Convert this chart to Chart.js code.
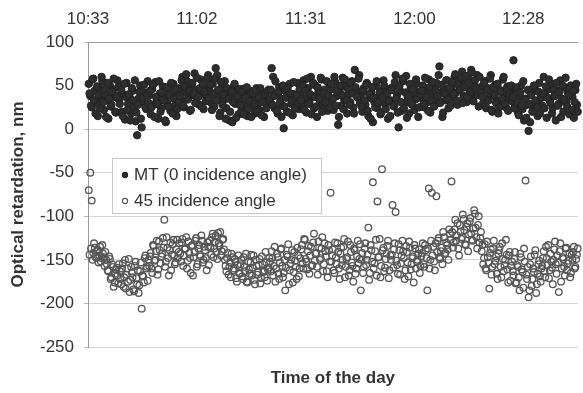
<!DOCTYPE html>
<html>
<head>
<meta charset="utf-8">
<title>Optical retardation</title>
<script src="https://cdn.jsdelivr.net/npm/chart.js@4.4.1/dist/chart.umd.min.js"></script>
<style>
  html, body { margin: 0; padding: 0; background: #fff; }
  #wrap { width: 583px; height: 393px; }
</style>
</head>
<body>
<div id="wrap"><canvas id="chart"></canvas></div>
<script>
/* -----------------------
   Time axis (minutes after midnight)
------------------------*/
const tickMinutes = [633.6, 662.4, 691.2, 720, 748.8];
const tickLabels  = ["10:33", "11:02", "11:31", "12:00", "12:28"];
const axisStart = 633.6;
const axisEnd   = 763.2;

// two interleaved runs, each one reading every 24 s
const firstSample = 633.8;
const sampleStep  = 0.4;
const runOffset   = 0.2;

/* READINGS, nm : run A */
const mtValues = [
  52, 38, 25, 58, 44, 30, 15, 47, 36, 55, 22, 41, 33, 12, 50, 28, 45, 37, 19, 56,
  34, 48, 20, 40, 11, 53, 29, 37, 18, 44, 26, 9, -7, 35, 50, 2, 31, 42, 23, 55,
  39, 17, 46, 28, 54, 33, 12, 41, 24, 49, 36, 8, 30, 45, 21, 38, 52, 27, 15, 43,
  47, 33, 60, 25, 42, 55, 36, 21, 50, 39, 64, 31, 45, 28, 57, 40, 23, 48, 35, 62,
  44, 30, 52, 26, 70, 62, 38, 19, 47, 33, 55, 24, 41, 10, 36, 8, 49, 29, 43, 17,
  35, 21, 46, 28, 40, 15, 38, 44, 25, 33, 18, 47, 30, 22, 42, 36, 14, 39, 27, 45,
  32, 70, 60, 24, 41, 18, 48, 35, 27, 1, 44, 20, 37, 52, 29, 16, 40, 34, 53, 23,
  42, 28, 56, 35, 19, 47, 31, 60, 38, 24, 50, 14, 43, 33, 57, 27, 45, 36, 21, 52,
  30, 46, 22, 54, 38, 5, 43, 27, 59, 34, 49, 18, 40, 31, 55, 25, 68, 44, 36, 62,
  39, 20, 47, 28, 53, 15, 36, 42, 8, 31, 50, 24, 38, 17, 44, 56, 29, 35, 12, 46,
  33, 48, 26, 62, 39, 2, 44, 21, 55, 30, 61, 37, 18, 47, 28, 41, 34, 52, 14, 43,
  36, 50, 25, 44, 31, 57, 19, 40, 48, 28, 53, 35, 72, 42, 14, 46, 33, 56, 24, 39,
  49, 36, 60, 42, 28, 55, 47, 66, 38, 52, 31, 58, 44, 68, 35, 50, 41, 62, 26, 48,
  43, 30, 55, 24, 47, 37, 62, 20, 40, 51, 33, 18, 45, 28, 57, 38, 25, 49, 35, 42,
  32, 79, 26, 45, 19, 38, 50, 23, 10, 35, 28, -2, 8, 41, 22, 47, 30, 15, 53, 36,
  27, 60, 40, 13, 46, 33, 52, 24, 38, 10, 44, 29, 56, 35, 20, 48, 31, 42, 17, 50,
  37, 13, 45, 28
];

const angle45Values = [
  -70, -50, -82, -142, -136, -148, -139, -145, -152, -133, -147, -141, -155, -163, -149, -170, -158, -176, -161, -168,
  -155, -172, -160, -181, -150, -167, -175, -187, -158, -170, -186, -152, -178, -188, -163, -206, -169, -148, -160, -174,
  -157, -142, -165, -134, -150, -128, -161, -139, -146, -125, -104, -152, -136, -168, -130, -144, -127, -155, -138, -148,
  -131, -152, -126, -145, -137, -160, -129, -148, -134, -168, -141, -125, -155, -133, -146, -128, -150, -139, -162, -135,
  -128, -144, -120, -137, -122, -149, -131, -118, -140, -126, -150, -163, -142, -158, -170, -147, -160, -152, -175, -145,
  -166, -150, -172, -158, -143, -176, -161, -153, -168, -145, -178, -157, -164, -149, -171, -155, -162, -141, -174, -159,
  -152, -140, -168, -135, -160, -147, -172, -138, -157, -165, -185, -144, -132, -162, -150, -176, -141, -158, -136, -169,
  -148, -133, -160, -127, -152, -140, -166, -135, -156, -120, -143, -158, -129, -150, -137, -163, -131, -146, -170, -139,
  -73, -145, -162, -130, -155, -141, -172, -136, -150, -126, -158, -147, -168, -133, -153, -175, -139, -160, -128, -149,
  -185, -142, -158, -131, -150, -113, -165, -139, -61, -154, -127, -83, -147, -170, -46, -136, -159, -143, -128, -162,
  -150, -87, -138, -95, -156, -132, -167, -145, -140, -172, -134, -153, -129, -161, -148, -176, -137, -152, -143, -165,
  -146, -131, -158, -139, -185, -68, -150, -73, -135, -162, -77, -128, -147, -140, -155, -124, -142, -133, -150, -120,
  -60, -136, -115, -128, -108, -145, -118, -124, -103, -132, -112, -140, -106, -120, -128, -93, -113, -137, -100, -125,
  -140, -155, -132, -162, -147, -183, -138, -158, -128, -151, -166, -143, -135, -170, -149, -156, -127, -161, -145, -174,
  -152, -168, -141, -176, -158, -185, -147, -164, -137, -59, -172, -193, -155, -180, -160, -144, -188, -166, -151, -175,
  -157, -140, -170, -148, -133, -162, -152, -178, -138, -155, -145, -187, -131, -160, -149, -168, -136, -154, -142, -165,
  -150, -135, -158, -144
];

/* READINGS, nm : run B */
const mtValuesB = [
  41, 27, 57, 33, 18, 49, 39, 24, 60, 31, 46, 14, 53, 35, 26, 43, 58, 20, 38, 48,
  29, 45, 15, 52, 37, 22, 40, 10, 47, 33, 56, 19, 28, 43, 12, 36, 51, 25, 39, 30,
  44, 25, 51, 14, 37, 29, 55, 20, 42, 33, 10, 48, 26, 39, 53, 18, 35, 46, 23, 31,
  38, 56, 27, 49, 63, 34, 44, 22, 53, 41, 30, 59, 37, 47, 26, 52, 43, 32, 58, 36,
  51, 22, 40, 58, 33, 45, 15, 54, 28, 39, 12, 47, 35, 20, 43, 31, 52, 13, 38, 46,
  27, 43, 17, 37, 48, 23, 32, 14, 41, 29, 45, 20, 36, 47, 16, 31, 40, 24, 44, 34,
  45, 28, 38, 55, 21, 42, 31, 14, 50, 26, 36, 47, 19, 41, 33, 54, 24, 39, 30, 46,
  33, 51, 22, 44, 58, 29, 40, 17, 53, 37, 26, 48, 35, 59, 20, 41, 31, 55, 39, 25,
  52, 35, 60, 27, 45, 14, 50, 39, 23, 57, 33, 46, 28, 53, 41, 18, 48, 37, 58, 30,
  26, 44, 33, 51, 21, 40, 12, 48, 36, 25, 55, 30, 43, 19, 37, 50, 23, 41, 32, 15,
  45, 27, 54, 35, 19, 49, 31, 58, 24, 42, 13, 38, 52, 29, 46, 22, 57, 36, 25, 40,
  44, 29, 59, 37, 21, 48, 33, 54, 26, 45, 38, 62, 30, 51, 19, 41, 56, 34, 47, 27,
  54, 40, 63, 33, 51, 45, 59, 30, 48, 61, 37, 53, 43, 65, 32, 56, 46, 39, 60, 42,
  37, 53, 27, 45, 33, 58, 22, 48, 39, 30, 52, 25, 43, 35, 60, 29, 46, 21, 40, 50,
  37, 24, 48, 31, 16, 42, 27, 55, 34, 13, 45, 29, 39, 20, 50, 33, 25, 43, 18, 36,
  41, 24, 49, 36, 57, 30, 18, 45, 38, 53, 27, 43, 14, 50, 33, 59, 26, 39, 47, 22,
  44, 31, 52, 20
];

const angle45ValuesB = [
  -144, -137, -150, -131, -146, -140, -153, -135, -148, -143, -157, -150, -162, -146, -172, -155, -181, -166, -159, -177,
  -163, -178, -154, -170, -183, -160, -149, -173, -165, -184, -157, -171, -162, -179, -153, -168, -176, -145, -158, -150,
  -146, -160, -133, -151, -140, -167, -129, -154, -143, -136, -158, -124, -148, -139, -162, -132, -145, -153, -127, -141,
  -143, -130, -157, -138, -124, -151, -142, -165, -133, -147, -128, -158, -137, -144, -122, -153, -135, -148, -130, -156,
  -135, -124, -147, -130, -141, -119, -134, -145, -127, -138, -157, -148, -167, -153, -143, -162, -149, -171, -156, -165,
  -155, -169, -147, -163, -175, -152, -166, -144, -159, -173, -150, -167, -156, -177, -146, -164, -170, -153, -161, -148,
  -163, -148, -157, -175, -143, -166, -153, -137, -170, -150, -159, -146, -178, -154, -139, -164, -151, -172, -145, -160,
  -138, -154, -126, -149, -161, -134, -145, -157, -130, -151, -142, -167, -136, -148, -124, -155, -140, -163, -133, -152,
  -152, -138, -165, -147, -131, -160, -143, -156, -135, -170, -149, -129, -162, -141, -157, -137, -166, -146, -154, -132,
  -150, -165, -137, -156, -144, -173, -133, -152, -160, -140, -168, -147, -126, -157, -139, -163, -149, -134, -171, -145,
  -144, -159, -131, -151, -166, -139, -154, -128, -148, -162, -141, -169, -136, -155, -146, -133, -160, -150, -138, -157,
  -142, -155, -133, -148, -137, -160, -128, -145, -152, -131, -141, -125, -149, -136, -118, -143, -130, -138, -115, -127,
  -118, -130, -104, -122, -137, -110, -126, -98, -116, -133, -108, -121, -102, -127, -114, -97, -124, -110, -130, -118,
  -133, -148, -160, -129, -153, -142, -167, -137, -155, -146, -172, -139, -158, -131, -163, -150, -144, -176, -141, -157,
  -163, -149, -177, -156, -170, -143, -161, -182, -152, -167, -158, -185, -146, -172, -164, -139, -178, -155, -169, -160,
  -148, -163, -135, -156, -171, -143, -159, -150, -129, -166, -153, -140, -175, -147, -158, -137, -162, -151, -170, -144,
  -141, -160, -149, -137
];

const toPoints = (vals, offset) =>
  vals.map((v, i) => ({ x: firstSample + offset + i * sampleStep, y: v }));

/* LEGEND BOX INSIDE THE PLOT */
const boxLegend = {
  id: "boxLegend",
  afterDraw(chart) {
    const { ctx, chartArea } = chart;
    const left = chartArea.left + 24, top = chartArea.top + 116;
    const w = 209, h = 55;
    ctx.save();
    ctx.fillStyle = "#fff";
    ctx.fillRect(left, top, w, h);
    ctx.strokeStyle = "#c8c8c8";
    ctx.lineWidth = 1;
    ctx.strokeRect(left + 0.5, top + 0.5, w, h);
    ctx.font = '17px "Liberation Sans", Arial, sans-serif';
    ctx.textBaseline = "middle";
    chart.data.datasets.forEach((ds, i) => {
      const y = top + 17 + i * 26;
      ctx.beginPath();
      ctx.arc(left + 13, y, 2.6, 0, Math.PI * 2);
      ctx.fillStyle = ds.backgroundColor;
      ctx.fill();
      ctx.lineWidth = 1.1;
      ctx.strokeStyle = ds.borderColor;
      ctx.stroke();
      ctx.fillStyle = "#333";
      ctx.fillText(ds.label, left + 22, y);
    });
    ctx.restore();
  }
};

Chart.defaults.font.family = '"Liberation Sans", Arial, sans-serif';
Chart.defaults.font.size = 17;
Chart.defaults.color = "#333";

new Chart(document.getElementById("chart"), {
  type: "scatter",
  data: {
    datasets: [{
      label: "MT (0 incidence angle)",
      data: toPoints(mtValues, 0).concat(toPoints(mtValuesB, runOffset)),
      backgroundColor: "#2e2e2e",
      borderColor: "#222",
      borderWidth: 1,
      pointRadius: 3.7,
      clip: false
    }, {
      label: "45 incidence angle",
      data: toPoints(angle45Values, 0).concat(toPoints(angle45ValuesB, runOffset)),
      backgroundColor: "rgba(255,255,255,0)",
      borderColor: "#555",
      borderWidth: 1.3,
      pointRadius: 3.3,
      clip: false
    }]
  },
  options: {
    responsive: true,
    maintainAspectRatio: false,
    animation: false,
    events: [],
    layout: { padding: 0 },
    plugins: {
      legend: { display: false },
      tooltip: { enabled: false }
    },
    scales: {
      x: {
        type: "linear",
        position: "top",
        min: axisStart,
        max: axisEnd,
        afterBuildTicks: s => { s.ticks = tickMinutes.map(v => ({ value: v })); },
        afterFit: s => { s.height = 42; },
        ticks: {
          padding: 4,
          maxRotation: 0,
          autoSkip: false,
          callback: (v, i) => tickLabels[i]
        },
        grid: { display: false },
        border: { display: true, color: "#9a9a9a", width: 1 }
      },
      xTitle: {
        type: "linear",
        position: "bottom",
        min: axisStart,
        max: axisEnd,
        afterFit: s => { s.height = 46; },
        ticks: { display: false },
        grid: { display: false },
        border: { display: false },
        title: {
          display: true,
          text: "Time of the day",
          font: { size: 17, weight: "bold" },
          padding: { top: 0, bottom: 4 }
        }
      },
      y: {
        min: -250,
        max: 100,
        afterFit: s => { s.width = 88; },
        ticks: { stepSize: 50, padding: 10 },
        grid: { color: "#d4d4d4", tickLength: 4, tickColor: "#bdbdbd" },
        border: { color: "#9a9a9a" },
        title: {
          display: true,
          text: "Optical retardation, nm",
          font: { size: 17, weight: "bold" },
          padding: { top: 8, bottom: 0 }
        }
      }
    }
  },
  plugins: [boxLegend]
});
</script>
</body>
</html>
